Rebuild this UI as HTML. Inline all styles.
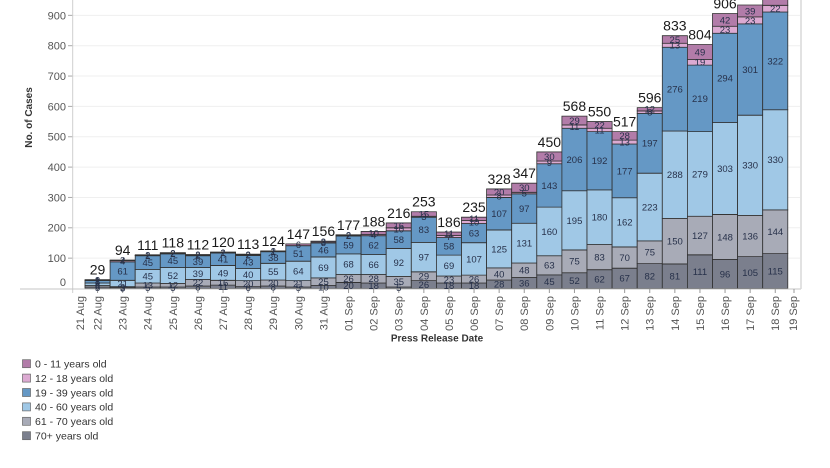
<!DOCTYPE html>
<html><head><meta charset="utf-8"><style>
html,body{margin:0;padding:0;background:#fff;}
svg{display:block;font-family:"Liberation Sans",Arial,sans-serif;}
.bars rect{stroke:#303030;stroke-width:0.8;vector-effect:non-scaling-stroke;}
.a{fill:#7b7f8d}.b{fill:#a8abb7}.c{fill:#a0c8e6}.d{fill:#6598c5}.e{fill:#dcaad2}.f{fill:#b27ca9}
.sl text{font-size:9.5px;fill:#27314a;text-anchor:middle;}
.tl text{font-size:14px;fill:#1a1a1a;text-anchor:middle;}
.xl text{font-size:11px;fill:#555;text-anchor:end;}
.yl text{font-size:11px;fill:#555;text-anchor:end;}
.lg text{font-size:10.5px;fill:#333;}
.lg rect{stroke:#666;stroke-width:0.7;}
</style></head><body>
<svg width="830" height="468" viewBox="0 0 830 468" xmlns="http://www.w3.org/2000/svg">
<rect x="0" y="0" width="830" height="468" fill="#fff"/>
<!-- gridlines -->
<g stroke="#efefef" stroke-width="1">
<line x1="73" x2="800" y1="258.15" y2="258.15"/>
<line x1="73" x2="800" y1="227.8" y2="227.8"/>
<line x1="73" x2="800" y1="197.45" y2="197.45"/>
<line x1="73" x2="800" y1="167.1" y2="167.1"/>
<line x1="73" x2="800" y1="136.75" y2="136.75"/>
<line x1="73" x2="800" y1="106.4" y2="106.4"/>
<line x1="73" x2="800" y1="76.05" y2="76.05"/>
<line x1="73" x2="800" y1="45.7" y2="45.7"/>
<line x1="73" x2="800" y1="15.35" y2="15.35"/>
</g>
<!-- y ticks -->
<g stroke="#aaa" stroke-width="1">
<line x1="68" x2="72.5" y1="258.15" y2="258.15"/>
<line x1="68" x2="72.5" y1="227.8" y2="227.8"/>
<line x1="68" x2="72.5" y1="197.45" y2="197.45"/>
<line x1="68" x2="72.5" y1="167.1" y2="167.1"/>
<line x1="68" x2="72.5" y1="136.75" y2="136.75"/>
<line x1="68" x2="72.5" y1="106.4" y2="106.4"/>
<line x1="68" x2="72.5" y1="76.05" y2="76.05"/>
<line x1="68" x2="72.5" y1="45.7" y2="45.7"/>
<line x1="68" x2="72.5" y1="15.35" y2="15.35"/>
</g>
<g class="yl">
<text x="66" y="286">0</text>
<text x="66" y="262">100</text>
<text x="66" y="231.7">200</text>
<text x="66" y="201.4">300</text>
<text x="66" y="171">400</text>
<text x="66" y="140.7">500</text>
<text x="66" y="110.3">600</text>
<text x="66" y="80">700</text>
<text x="66" y="49.6">800</text>
<text x="66" y="19.3">900</text>
</g>
<!-- bars -->
<g class="bars" transform="translate(0,288.5) scale(1,-0.3035)">
<g transform="translate(85,0)"><rect class="a" x="0" width="25.1" y="0" height="5"/><rect class="b" x="0" width="25.1" y="5" height="5"/><rect class="c" x="0" width="25.1" y="10" height="8"/><rect class="d" x="0" width="25.1" y="18" height="8"/><rect class="e" x="0" width="25.1" y="26" height="1"/><rect class="f" x="0" width="25.1" y="27" height="2"/></g>
<g transform="translate(110.1,0)"><rect class="a" x="0" width="25.1" y="0" height="3"/><rect class="b" x="0" width="25.1" y="3" height="3"/><rect class="c" x="0" width="25.1" y="6" height="21"/><rect class="d" x="0" width="25.1" y="27" height="61"/><rect class="e" x="0" width="25.1" y="88" height="4"/><rect class="f" x="0" width="25.1" y="92" height="2"/></g>
<g transform="translate(135.2,0)"><rect class="a" x="0" width="25.1" y="0" height="5"/><rect class="b" x="0" width="25.1" y="5" height="13"/><rect class="c" x="0" width="25.1" y="18" height="45"/><rect class="d" x="0" width="25.1" y="63" height="45"/><rect class="e" x="0" width="25.1" y="108" height="1"/><rect class="f" x="0" width="25.1" y="109" height="2"/></g>
<g transform="translate(160.3,0)"><rect class="a" x="0" width="25.1" y="0" height="5"/><rect class="b" x="0" width="25.1" y="5" height="12"/><rect class="c" x="0" width="25.1" y="17" height="52"/><rect class="d" x="0" width="25.1" y="69" height="45"/><rect class="e" x="0" width="25.1" y="114" height="2"/><rect class="f" x="0" width="25.1" y="116" height="2"/></g>
<g transform="translate(185.4,0)"><rect class="a" x="0" width="25.1" y="0" height="8"/><rect class="b" x="0" width="25.1" y="8" height="22"/><rect class="c" x="0" width="25.1" y="30" height="39"/><rect class="d" x="0" width="25.1" y="69" height="39"/><rect class="e" x="0" width="25.1" y="108" height="2"/><rect class="f" x="0" width="25.1" y="110" height="2"/></g>
<g transform="translate(210.5,0)"><rect class="a" x="0" width="25.1" y="0" height="11"/><rect class="b" x="0" width="25.1" y="11" height="16"/><rect class="c" x="0" width="25.1" y="27" height="49"/><rect class="d" x="0" width="25.1" y="76" height="41"/><rect class="e" x="0" width="25.1" y="117" height="1"/><rect class="f" x="0" width="25.1" y="118" height="2"/></g>
<g transform="translate(235.6,0)"><rect class="a" x="0" width="25.1" y="0" height="6"/><rect class="b" x="0" width="25.1" y="6" height="20"/><rect class="c" x="0" width="25.1" y="26" height="40"/><rect class="d" x="0" width="25.1" y="66" height="43"/><rect class="e" x="0" width="25.1" y="109" height="2"/><rect class="f" x="0" width="25.1" y="111" height="2"/></g>
<g transform="translate(260.7,0)"><rect class="a" x="0" width="25.1" y="0" height="8"/><rect class="b" x="0" width="25.1" y="8" height="20"/><rect class="c" x="0" width="25.1" y="28" height="55"/><rect class="d" x="0" width="25.1" y="83" height="38"/><rect class="e" x="0" width="25.1" y="121" height="1"/><rect class="f" x="0" width="25.1" y="122" height="2"/></g>
<g transform="translate(285.8,0)"><rect class="a" x="0" width="25.1" y="0" height="5"/><rect class="b" x="0" width="25.1" y="5" height="21"/><rect class="c" x="0" width="25.1" y="26" height="64"/><rect class="d" x="0" width="25.1" y="90" height="51"/><rect class="f" x="0" width="25.1" y="141" height="6"/></g>
<g transform="translate(310.9,0)"><rect class="a" x="0" width="25.1" y="0" height="10"/><rect class="b" x="0" width="25.1" y="10" height="25"/><rect class="c" x="0" width="25.1" y="35" height="69"/><rect class="d" x="0" width="25.1" y="104" height="46"/><rect class="e" x="0" width="25.1" y="150" height="3"/><rect class="f" x="0" width="25.1" y="153" height="3"/></g>
<g transform="translate(336,0)"><rect class="a" x="0" width="25.1" y="0" height="20"/><rect class="b" x="0" width="25.1" y="20" height="26"/><rect class="c" x="0" width="25.1" y="46" height="68"/><rect class="d" x="0" width="25.1" y="114" height="59"/><rect class="e" x="0" width="25.1" y="173" height="2"/><rect class="f" x="0" width="25.1" y="175" height="2"/></g>
<g transform="translate(361.1,0)"><rect class="a" x="0" width="25.1" y="0" height="18"/><rect class="b" x="0" width="25.1" y="18" height="28"/><rect class="c" x="0" width="25.1" y="46" height="66"/><rect class="d" x="0" width="25.1" y="112" height="62"/><rect class="e" x="0" width="25.1" y="174" height="4"/><rect class="f" x="0" width="25.1" y="178" height="10"/></g>
<g transform="translate(386.2,0)"><rect class="a" x="0" width="25.1" y="0" height="5"/><rect class="b" x="0" width="25.1" y="5" height="35"/><rect class="c" x="0" width="25.1" y="40" height="92"/><rect class="d" x="0" width="25.1" y="132" height="58"/><rect class="e" x="0" width="25.1" y="190" height="10"/><rect class="f" x="0" width="25.1" y="200" height="16"/></g>
<g transform="translate(411.3,0)"><rect class="a" x="0" width="25.1" y="0" height="26"/><rect class="b" x="0" width="25.1" y="26" height="29"/><rect class="c" x="0" width="25.1" y="55" height="97"/><rect class="d" x="0" width="25.1" y="152" height="83"/><rect class="e" x="0" width="25.1" y="235" height="3"/><rect class="f" x="0" width="25.1" y="238" height="15"/></g>
<g transform="translate(436.4,0)"><rect class="a" x="0" width="25.1" y="0" height="18"/><rect class="b" x="0" width="25.1" y="18" height="23"/><rect class="c" x="0" width="25.1" y="41" height="69"/><rect class="d" x="0" width="25.1" y="110" height="58"/><rect class="e" x="0" width="25.1" y="168" height="7"/><rect class="f" x="0" width="25.1" y="175" height="11"/></g>
<g transform="translate(461.5,0)"><rect class="a" x="0" width="25.1" y="0" height="18"/><rect class="b" x="0" width="25.1" y="18" height="26"/><rect class="c" x="0" width="25.1" y="44" height="107"/><rect class="d" x="0" width="25.1" y="151" height="63"/><rect class="e" x="0" width="25.1" y="214" height="10"/><rect class="f" x="0" width="25.1" y="224" height="11"/></g>
<g transform="translate(486.6,0)"><rect class="a" x="0" width="25.1" y="0" height="28"/><rect class="b" x="0" width="25.1" y="28" height="40"/><rect class="c" x="0" width="25.1" y="68" height="125"/><rect class="d" x="0" width="25.1" y="193" height="107"/><rect class="e" x="0" width="25.1" y="300" height="8"/><rect class="f" x="0" width="25.1" y="308" height="20"/></g>
<g transform="translate(511.7,0)"><rect class="a" x="0" width="25.1" y="0" height="36"/><rect class="b" x="0" width="25.1" y="36" height="48"/><rect class="c" x="0" width="25.1" y="84" height="131"/><rect class="d" x="0" width="25.1" y="215" height="97"/><rect class="e" x="0" width="25.1" y="312" height="5"/><rect class="f" x="0" width="25.1" y="317" height="30"/></g>
<g transform="translate(536.8,0)"><rect class="a" x="0" width="25.1" y="0" height="45"/><rect class="b" x="0" width="25.1" y="45" height="63"/><rect class="c" x="0" width="25.1" y="108" height="160"/><rect class="d" x="0" width="25.1" y="268" height="143"/><rect class="e" x="0" width="25.1" y="411" height="9"/><rect class="f" x="0" width="25.1" y="420" height="30"/></g>
<g transform="translate(561.9,0)"><rect class="a" x="0" width="25.1" y="0" height="52"/><rect class="b" x="0" width="25.1" y="52" height="75"/><rect class="c" x="0" width="25.1" y="127" height="195"/><rect class="d" x="0" width="25.1" y="322" height="206"/><rect class="e" x="0" width="25.1" y="528" height="11"/><rect class="f" x="0" width="25.1" y="539" height="29"/></g>
<g transform="translate(587,0)"><rect class="a" x="0" width="25.1" y="0" height="62"/><rect class="b" x="0" width="25.1" y="62" height="83"/><rect class="c" x="0" width="25.1" y="145" height="180"/><rect class="d" x="0" width="25.1" y="325" height="192"/><rect class="e" x="0" width="25.1" y="517" height="11"/><rect class="f" x="0" width="25.1" y="528" height="22"/></g>
<g transform="translate(612.1,0)"><rect class="a" x="0" width="25.1" y="0" height="67"/><rect class="b" x="0" width="25.1" y="67" height="70"/><rect class="c" x="0" width="25.1" y="137" height="162"/><rect class="d" x="0" width="25.1" y="299" height="177"/><rect class="e" x="0" width="25.1" y="476" height="13"/><rect class="f" x="0" width="25.1" y="489" height="28"/></g>
<g transform="translate(637.2,0)"><rect class="a" x="0" width="25.1" y="0" height="82"/><rect class="b" x="0" width="25.1" y="82" height="75"/><rect class="c" x="0" width="25.1" y="157" height="223"/><rect class="d" x="0" width="25.1" y="380" height="197"/><rect class="e" x="0" width="25.1" y="577" height="8"/><rect class="f" x="0" width="25.1" y="585" height="11"/></g>
<g transform="translate(662.3,0)"><rect class="a" x="0" width="25.1" y="0" height="81"/><rect class="b" x="0" width="25.1" y="81" height="150"/><rect class="c" x="0" width="25.1" y="231" height="288"/><rect class="d" x="0" width="25.1" y="519" height="276"/><rect class="e" x="0" width="25.1" y="795" height="13"/><rect class="f" x="0" width="25.1" y="808" height="25"/></g>
<g transform="translate(687.4,0)"><rect class="a" x="0" width="25.1" y="0" height="111"/><rect class="b" x="0" width="25.1" y="111" height="127"/><rect class="c" x="0" width="25.1" y="238" height="279"/><rect class="d" x="0" width="25.1" y="517" height="219"/><rect class="e" x="0" width="25.1" y="736" height="19"/><rect class="f" x="0" width="25.1" y="755" height="49"/></g>
<g transform="translate(712.5,0)"><rect class="a" x="0" width="25.1" y="0" height="96"/><rect class="b" x="0" width="25.1" y="96" height="148"/><rect class="c" x="0" width="25.1" y="244" height="303"/><rect class="d" x="0" width="25.1" y="547" height="294"/><rect class="e" x="0" width="25.1" y="841" height="23"/><rect class="f" x="0" width="25.1" y="864" height="42"/></g>
<g transform="translate(737.6,0)"><rect class="a" x="0" width="25.1" y="0" height="105"/><rect class="b" x="0" width="25.1" y="105" height="136"/><rect class="c" x="0" width="25.1" y="241" height="330"/><rect class="d" x="0" width="25.1" y="571" height="301"/><rect class="e" x="0" width="25.1" y="872" height="23"/><rect class="f" x="0" width="25.1" y="895" height="39"/></g>
<g transform="translate(762.7,0)"><rect class="a" x="0" width="25.1" y="0" height="115"/><rect class="b" x="0" width="25.1" y="115" height="144"/><rect class="c" x="0" width="25.1" y="259" height="330"/><rect class="d" x="0" width="25.1" y="589" height="322"/><rect class="e" x="0" width="25.1" y="911" height="22"/><rect class="f" x="0" width="25.1" y="933" height="40"/></g>
</g>
<!-- axes -->
<line x1="72.7" x2="72.7" y1="0" y2="293" stroke="#cfcfcf" stroke-width="1"/>
<line x1="20" x2="801" y1="289" y2="289" stroke="#c4c4c4" stroke-width="1"/>
<line x1="801" x2="801" y1="0" y2="289" stroke="#d8d8d8" stroke-width="1.5"/>
<g stroke="#999" stroke-width="1">
<line x1="97.55" x2="97.55" y1="289" y2="293"/><line x1="122.65" x2="122.65" y1="289" y2="293"/><line x1="147.75" x2="147.75" y1="289" y2="293"/><line x1="172.85" x2="172.85" y1="289" y2="293"/><line x1="197.95" x2="197.95" y1="289" y2="293"/><line x1="223.05" x2="223.05" y1="289" y2="293"/><line x1="248.15" x2="248.15" y1="289" y2="293"/><line x1="273.25" x2="273.25" y1="289" y2="293"/><line x1="298.35" x2="298.35" y1="289" y2="293"/><line x1="323.45" x2="323.45" y1="289" y2="293"/><line x1="348.55" x2="348.55" y1="289" y2="293"/><line x1="373.65" x2="373.65" y1="289" y2="293"/><line x1="398.75" x2="398.75" y1="289" y2="293"/><line x1="423.85" x2="423.85" y1="289" y2="293"/><line x1="448.95" x2="448.95" y1="289" y2="293"/><line x1="474.05" x2="474.05" y1="289" y2="293"/><line x1="499.15" x2="499.15" y1="289" y2="293"/><line x1="524.25" x2="524.25" y1="289" y2="293"/><line x1="549.35" x2="549.35" y1="289" y2="293"/><line x1="574.45" x2="574.45" y1="289" y2="293"/><line x1="599.55" x2="599.55" y1="289" y2="293"/><line x1="624.65" x2="624.65" y1="289" y2="293"/><line x1="649.75" x2="649.75" y1="289" y2="293"/><line x1="674.85" x2="674.85" y1="289" y2="293"/><line x1="699.95" x2="699.95" y1="289" y2="293"/><line x1="725.05" x2="725.05" y1="289" y2="293"/><line x1="750.15" x2="750.15" y1="289" y2="293"/><line x1="775.25" x2="775.25" y1="289" y2="293"/><line x1="794" x2="794" y1="289" y2="293"/>
</g>
<!-- segment labels -->
<g class="sl" transform="translate(0,3.4)">
<text x="97.55" y="287.7">5</text><text x="97.55" y="286.2">5</text><text x="97.55" y="284.2">8</text><text x="97.55" y="281.8">8</text><text x="97.55" y="280.5">1</text><text x="97.55" y="280">2</text>
<text x="122.65" y="288">3</text><text x="122.65" y="287.1">3</text><text x="122.65" y="283.5">21</text><text x="122.65" y="271">61</text><text x="122.65" y="261.2">4</text><text x="122.65" y="260.3">2</text>
<text x="147.75" y="287.7">5</text><text x="147.75" y="285">13</text><text x="147.75" y="276.2">45</text><text x="147.75" y="262.5">45</text><text x="147.75" y="255.6">1</text><text x="147.75" y="255.1">2</text>
<text x="172.85" y="287.7">5</text><text x="172.85" y="285.2">12</text><text x="172.85" y="275.4">52</text><text x="172.85" y="260.7">45</text><text x="172.85" y="253.6">2</text><text x="172.85" y="253">2</text>
<text x="197.95" y="287.3">8</text><text x="197.95" y="282.7">22</text><text x="197.95" y="273.5">39</text><text x="197.95" y="261.6">39</text><text x="197.95" y="255.4">2</text><text x="197.95" y="254.8">2</text>
<text x="223.05" y="286.8">11</text><text x="223.05" y="282.7">16</text><text x="223.05" y="272.9">49</text><text x="223.05" y="259.2">41</text><text x="223.05" y="252.8">1</text><text x="223.05" y="252.4">2</text>
<text x="248.15" y="287.6">6</text><text x="248.15" y="283.6">20</text><text x="248.15" y="274.5">40</text><text x="248.15" y="262">43</text><text x="248.15" y="255.1">2</text><text x="248.15" y="254.5">2</text>
<text x="273.25" y="287.3">8</text><text x="273.25" y="283">20</text><text x="273.25" y="271.7">55</text><text x="273.25" y="257.5">38</text><text x="273.25" y="251.6">1</text><text x="273.25" y="251.2">2</text>
<text x="298.35" y="287.7">5</text><text x="298.35" y="283.8">21</text><text x="298.35" y="270.9">64</text><text x="298.35" y="253.4">51</text><text x="298.35" y="244.8">6</text>
<text x="323.45" y="287">10</text><text x="323.45" y="281.7">25</text><text x="323.45" y="267.4">69</text><text x="323.45" y="250">46</text><text x="323.45" y="242.5">3</text><text x="323.45" y="241.6">3</text>
<text x="348.55" y="285.5">20</text><text x="348.55" y="278.5">26</text><text x="348.55" y="264.2">68</text><text x="348.55" y="245">59</text><text x="348.55" y="235.7">2</text><text x="348.55" y="235.1">2</text>
<text x="373.65" y="285.8">18</text><text x="373.65" y="278.8">28</text><text x="373.65" y="264.5">66</text><text x="373.65" y="245.1">62</text><text x="373.65" y="235.1">4</text><text x="373.65" y="233">10</text>
<text x="398.75" y="287.7">5</text><text x="398.75" y="281.7">35</text><text x="398.75" y="262.4">92</text><text x="398.75" y="239.6">58</text><text x="398.75" y="229.3">10</text><text x="398.75" y="225.4">16</text>
<text x="423.85" y="284.6">26</text><text x="423.85" y="276.2">29</text><text x="423.85" y="257.1">97</text><text x="423.85" y="229.8">83</text><text x="423.85" y="216.7">3</text><text x="423.85" y="214">15</text>
<text x="448.95" y="285.8">18</text><text x="448.95" y="279.5">23</text><text x="448.95" y="265.6">69</text><text x="448.95" y="246.3">58</text><text x="448.95" y="236.4">7</text><text x="448.95" y="233.7">11</text>
<text x="474.05" y="285.8">18</text><text x="474.05" y="279.1">26</text><text x="474.05" y="258.9">107</text><text x="474.05" y="233.1">63</text><text x="474.05" y="222">10</text><text x="474.05" y="218.8">11</text>
<text x="499.15" y="284.3">28</text><text x="499.15" y="273.9">40</text><text x="499.15" y="248.9">125</text><text x="499.15" y="213.7">107</text><text x="499.15" y="196.2">8</text><text x="499.15" y="192">20</text>
<text x="524.25" y="283">36</text><text x="524.25" y="270.3">48</text><text x="524.25" y="243.1">131</text><text x="524.25" y="208.5">97</text><text x="524.25" y="193">5</text><text x="524.25" y="187.7">30</text>
<text x="549.35" y="281.7">45</text><text x="549.35" y="265.3">63</text><text x="549.35" y="231.4">160</text><text x="549.35" y="185.5">143</text><text x="549.35" y="162.4">9</text><text x="549.35" y="156.5">30</text>
<text x="574.45" y="280.6">52</text><text x="574.45" y="261.3">75</text><text x="574.45" y="220.4">195</text><text x="574.45" y="159.5">206</text><text x="574.45" y="126.6">11</text><text x="574.45" y="120.5">29</text>
<text x="599.55" y="279.1">62</text><text x="599.55" y="257.1">83</text><text x="599.55" y="217.2">180</text><text x="599.55" y="160.7">192</text><text x="599.55" y="129.9">11</text><text x="599.55" y="124.9">22</text>
<text x="624.65" y="278.3">67</text><text x="624.65" y="257.5">70</text><text x="624.65" y="222.3">162</text><text x="624.65" y="170.9">177</text><text x="624.65" y="142.1">13</text><text x="624.65" y="135.8">28</text>
<text x="649.75" y="276.1">82</text><text x="649.75" y="252.2">75</text><text x="649.75" y="207">223</text><text x="649.75" y="143.3">197</text><text x="649.75" y="112.2">8</text><text x="649.75" y="109.3">12</text>
<text x="674.85" y="276.2">81</text><text x="674.85" y="241.2">150</text><text x="674.85" y="174.7">288</text><text x="674.85" y="89.1">276</text><text x="674.85" y="45.2">13</text><text x="674.85" y="39.5">25</text>
<text x="699.95" y="271.7">111</text><text x="699.95" y="235.5">127</text><text x="699.95" y="173.9">279</text><text x="699.95" y="98.4">219</text><text x="699.95" y="62.2">19</text><text x="699.95" y="51.9">49</text>
<text x="725.05" y="273.9">96</text><text x="725.05" y="236.9">148</text><text x="725.05" y="168.5">303</text><text x="725.05" y="77.9">294</text><text x="725.05" y="29.8">23</text><text x="725.05" y="19.9">42</text>
<text x="750.15" y="272.6">105</text><text x="750.15" y="236">136</text><text x="750.15" y="165.3">330</text><text x="750.15" y="69.5">301</text><text x="750.15" y="20.4">23</text><text x="750.15" y="11">39</text>
<text x="775.25" y="271">115</text><text x="775.25" y="231.7">144</text><text x="775.25" y="159.8">330</text><text x="775.25" y="60.9">322</text><text x="775.25" y="8.7">22</text>
</g>
<!-- totals -->
<g class="tl">
<text x="97.55" y="274.7">29</text><text x="122.65" y="255">94</text><text x="147.75" y="249.8">111</text><text x="172.85" y="247.7">118</text><text x="197.95" y="249.5">112</text><text x="223.05" y="247.1">120</text><text x="248.15" y="249.2">113</text><text x="273.25" y="245.9">124</text><text x="298.35" y="238.9">147</text><text x="323.45" y="236.2">156</text><text x="348.55" y="229.8">177</text><text x="373.65" y="226.4">188</text><text x="398.75" y="217.9">216</text><text x="423.85" y="206.7">253</text><text x="448.95" y="227">186</text><text x="474.05" y="212.2">235</text><text x="499.15" y="184">328</text><text x="524.25" y="178.2">347</text><text x="549.35" y="146.9">450</text><text x="574.45" y="111.1">568</text><text x="599.55" y="116.6">550</text><text x="624.65" y="126.6">517</text><text x="649.75" y="102.6">596</text><text x="674.85" y="30.7">833</text><text x="699.95" y="39.5">804</text><text x="725.05" y="8.5">906</text>
</g>
<!-- x labels -->
<g class="xl">
<text transform="translate(84,296) rotate(-90)">21 Aug</text>
<text transform="translate(101.5,296) rotate(-90)">22 Aug</text>
<text transform="translate(126.6,296) rotate(-90)">23 Aug</text>
<text transform="translate(151.7,296) rotate(-90)">24 Aug</text>
<text transform="translate(176.8,296) rotate(-90)">25 Aug</text>
<text transform="translate(201.9,296) rotate(-90)">26 Aug</text>
<text transform="translate(227,296) rotate(-90)">27 Aug</text>
<text transform="translate(252.1,296) rotate(-90)">28 Aug</text>
<text transform="translate(277.2,296) rotate(-90)">29 Aug</text>
<text transform="translate(302.3,296) rotate(-90)">30 Aug</text>
<text transform="translate(327.4,296) rotate(-90)">31 Aug</text>
<text transform="translate(352.5,296) rotate(-90)">01 Sep</text>
<text transform="translate(377.6,296) rotate(-90)">02 Sep</text>
<text transform="translate(402.7,296) rotate(-90)">03 Sep</text>
<text transform="translate(427.8,296) rotate(-90)">04 Sep</text>
<text transform="translate(452.9,296) rotate(-90)">05 Sep</text>
<text transform="translate(478,296) rotate(-90)">06 Sep</text>
<text transform="translate(503.1,296) rotate(-90)">07 Sep</text>
<text transform="translate(528.2,296) rotate(-90)">08 Sep</text>
<text transform="translate(553.3,296) rotate(-90)">09 Sep</text>
<text transform="translate(578.4,296) rotate(-90)">10 Sep</text>
<text transform="translate(603.5,296) rotate(-90)">11 Sep</text>
<text transform="translate(628.6,296) rotate(-90)">12 Sep</text>
<text transform="translate(653.7,296) rotate(-90)">13 Sep</text>
<text transform="translate(678.8,296) rotate(-90)">14 Sep</text>
<text transform="translate(703.9,296) rotate(-90)">15 Sep</text>
<text transform="translate(729,296) rotate(-90)">16 Sep</text>
<text transform="translate(754.1,296) rotate(-90)">17 Sep</text>
<text transform="translate(779.2,296) rotate(-90)">18 Sep</text>
<text transform="translate(797,296) rotate(-90)">19 Sep</text>
</g>
<!-- axis titles -->
<text transform="translate(32,117.5) rotate(-90)" text-anchor="middle" font-size="10" font-weight="bold" fill="#333">No. of Cases</text>
<text x="437" y="341.5" text-anchor="middle" font-size="10" font-weight="bold" fill="#333">Press Release Date</text>
<!-- legend -->
<g class="lg">
<rect x="22.5" y="359.7" width="8" height="8" fill="#b27ca9"/><text x="35" y="367.5">0 - 11 years old</text>
<rect x="22.5" y="374.1" width="8" height="8" fill="#dcaad2"/><text x="35" y="381.9">12 - 18 years old</text>
<rect x="22.5" y="388.5" width="8" height="8" fill="#6598c5"/><text x="35" y="396.3">19 - 39 years old</text>
<rect x="22.5" y="402.9" width="8" height="8" fill="#a0c8e6"/><text x="35" y="410.7">40 - 60 years old</text>
<rect x="22.5" y="417.3" width="8" height="8" fill="#a8abb7"/><text x="35" y="425.1">61 - 70 years old</text>
<rect x="22.5" y="431.7" width="8" height="8" fill="#7b7f8d"/><text x="35" y="439.5">70+ years old</text>
</g>
</svg>
</body></html>
